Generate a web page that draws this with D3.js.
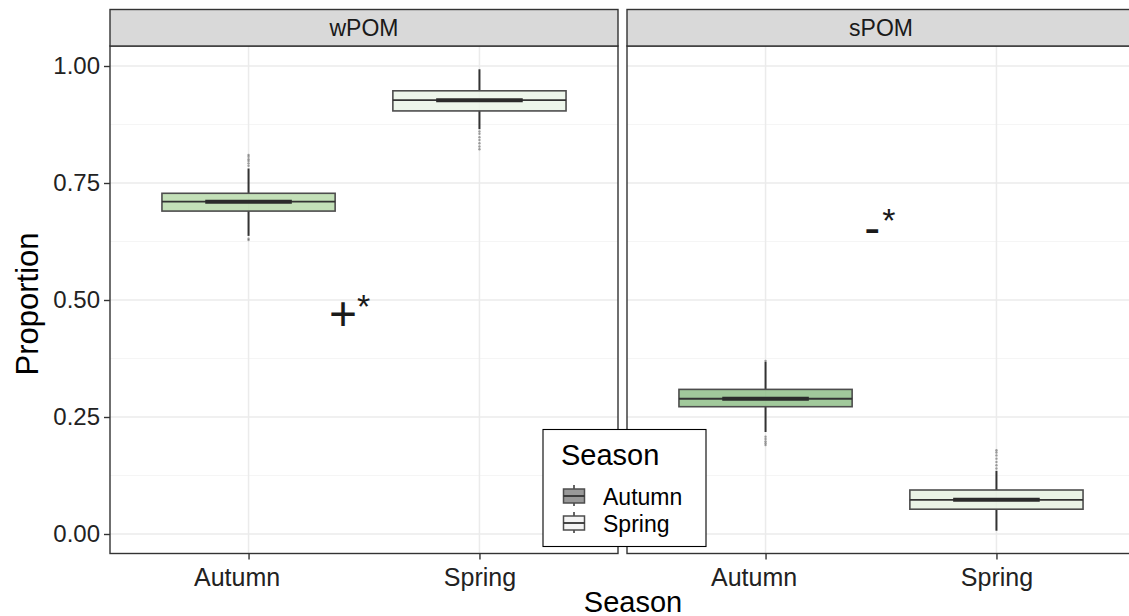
<!DOCTYPE html>
<html><head><meta charset="utf-8">
<script src="https://cdn.jsdelivr.net/npm/d3@7"></script>
<style>body{margin:0;background:#fff} text{font-family:"Liberation Sans",Arial,Helvetica,sans-serif}</style>
</head><body><svg id="c" width="1129" height="616"></svg>
<script>
// ---------- data ----------
const facets = ["wPOM", "sPOM"];
const seasons = ["Autumn", "Spring"];
const yTicks = [0, 0.25, 0.5, 0.75, 1.0];
const yTickLabels = ["0.00", "0.25", "0.50", "0.75", "1.00"];
const yMinor = [0.125, 0.375, 0.625, 0.875];
// [lower whisker, Q1, median, Q3, upper whisker]
const wPOM_Autumn = [0.637, 0.690, 0.710, 0.728, 0.781];
const wPOM_Spring = [0.865, 0.904, 0.927, 0.947, 0.993];
const sPOM_Autumn = [0.218, 0.272, 0.289, 0.309, 0.368];
const sPOM_Spring = [0.007, 0.053, 0.073, 0.094, 0.135];
const wPOM_Autumn_out = [0.628, 0.631, 0.787, 0.792, 0.797, 0.801, 0.806, 0.810];
const wPOM_Spring_out = [0.822, 0.828, 0.835, 0.842, 0.848, 0.855, 0.860];
const sPOM_Autumn_out = [0.190, 0.194, 0.198, 0.203, 0.208, 0.370];
const sPOM_Spring_out = [0.140, 0.147, 0.154, 0.161, 0.168, 0.174, 0.179];
const boxFills = { wPOM_Autumn: "#b9dbab", wPOM_Spring: "#eaf4e7", sPOM_Autumn: "#91c089", sPOM_Spring: "#e6f1e2" };
const legendFills = ["#999999", "#f4f4f4"];
// annotations: facet, x (category units), y (proportion), main symbol, superscript
const annotFacet = ["wPOM", "sPOM"];
const annotX = [1.348, 1.428];
const annotY = [0.435, 0.620];
const annotMain = ["+", "-"];
const annotSup = ["*", "*"];

// ---------- layout ----------
const W = 1129, H = 616;
const panelTop = 46, panelBottom = 553.5, panelW = 508;
const panelLefts = [110, 627];
const stripTop = 9.5;
const svg = d3.select("#c");

const y = d3.scaleLinear().domain([0, 1]).range([534, 66]);

const stats = { wPOM_Autumn, wPOM_Spring, sPOM_Autumn, sPOM_Spring };
const outs = { wPOM_Autumn: wPOM_Autumn_out, wPOM_Spring: wPOM_Spring_out, sPOM_Autumn: sPOM_Autumn_out, sPOM_Spring: sPOM_Spring_out };

facets.forEach((f, fi) => {
  const L = panelLefts[fi];
  const x = d3.scaleLinear().domain([0.4, 2.6]).range([L, L + panelW]);
  const step = x(2) - x(1);
  const g = svg.append("g");
  g.append("rect").attr("x", L).attr("y", panelTop).attr("width", panelW).attr("height", panelBottom - panelTop).attr("fill", "#fff");
  g.selectAll(".mn").data(yMinor).enter().append("line")
    .attr("x1", L).attr("x2", L + panelW).attr("y1", d => y(d)).attr("y2", d => y(d))
    .attr("stroke", "#f2f2f2").attr("stroke-width", 0.8);
  g.selectAll(".mj").data(yTicks).enter().append("line")
    .attr("x1", L).attr("x2", L + panelW).attr("y1", d => y(d)).attr("y2", d => y(d))
    .attr("stroke", "#ebebeb").attr("stroke-width", 1.5);
  g.selectAll(".mjx").data([1, 2]).enter().append("line")
    .attr("x1", d => x(d)).attr("x2", d => x(d)).attr("y1", panelTop).attr("y2", panelBottom)
    .attr("stroke", "#ebebeb").attr("stroke-width", 1.5);

  seasons.forEach((s, si) => {
    const key = f + "_" + s;
    const st = stats[key];
    const cx = x(si + 1);
    const bw = 0.75 * step;
    g.append("line").attr("x1", cx).attr("x2", cx).attr("y1", y(st[3])).attr("y2", y(st[4]))
      .attr("stroke", "#333").attr("stroke-width", 2);
    g.append("line").attr("x1", cx).attr("x2", cx).attr("y1", y(st[1])).attr("y2", y(st[0]))
      .attr("stroke", "#333").attr("stroke-width", 2);
    g.selectAll(".o" + key).data(outs[key]).enter().append("circle")
      .attr("cx", cx).attr("cy", d => y(d)).attr("r", 1.2)
      .attr("fill", "#555").attr("fill-opacity", 0.55);
    g.append("rect").attr("x", cx - bw / 2).attr("y", y(st[3])).attr("width", bw).attr("height", y(st[1]) - y(st[3]))
      .attr("fill", boxFills[key]).attr("fill-opacity", 0.85)
      .attr("stroke", "#4d4d4d").attr("stroke-width", 1.6);
    g.append("line").attr("x1", cx - bw / 2).attr("x2", cx + bw / 2).attr("y1", y(st[2])).attr("y2", y(st[2]))
      .attr("stroke", "#333").attr("stroke-width", 1.8);
    g.append("line").attr("x1", cx - bw / 4).attr("x2", cx + bw / 4).attr("y1", y(st[2])).attr("y2", y(st[2]))
      .attr("stroke", "#2b2b2b").attr("stroke-width", 4);
  });

  annotFacet.forEach((af, ai) => {
    if (af !== f) return;
    const t = g.append("text").attr("x", x(annotX[ai])).attr("y", y(annotY[ai])).attr("fill", "#1a1a1a");
    t.append("tspan").attr("font-size", 48).text(annotMain[ai]);
    t.append("tspan").attr("font-size", 34).attr("dy", -12).attr("dx", ai === 0 ? 0 : 2).text(annotSup[ai]);
  });

  g.append("rect").attr("x", L).attr("y", panelTop).attr("width", panelW).attr("height", panelBottom - panelTop)
    .attr("fill", "none").attr("stroke", "#333").attr("stroke-width", 1.4);
  g.append("rect").attr("x", L).attr("y", stripTop).attr("width", panelW).attr("height", panelTop - stripTop)
    .attr("fill", "#d9d9d9").attr("stroke", "#333").attr("stroke-width", 1.4);
  g.append("text").attr("x", L + panelW / 2).attr("y", 36).attr("text-anchor", "middle")
    .attr("font-size", 23).attr("fill", "#1a1a1a").text(f);

  const xa = g.append("g").attr("transform", `translate(0,${panelBottom})`)
    .call(d3.axisBottom(x).tickValues([1, 2]).tickFormat(d => seasons[d - 1]).tickSize(6).tickPadding(4));
  xa.select(".domain").remove();
  xa.selectAll(".tick line").attr("stroke", "#333").attr("stroke-width", 1.4);
  xa.selectAll(".tick text").attr("font-size", 25).attr("fill", "#222").attr("dy", "0.88em")
    .attr("dx", d => d === 1 ? -12 : 0)
    .attr("font-family", "Liberation Sans, Arial, sans-serif");
});

const ya = svg.append("g").attr("transform", `translate(${panelLefts[0]},0)`)
  .call(d3.axisLeft(y).tickValues(yTicks).tickFormat((d, i) => yTickLabels[i]).tickSize(6).tickPadding(4));
ya.select(".domain").remove();
ya.selectAll(".tick line").attr("stroke", "#333").attr("stroke-width", 1.4);
ya.selectAll(".tick text").attr("font-size", 24).attr("fill", "#222")
  .attr("font-family", "Liberation Sans, Arial, sans-serif");

svg.append("text").attr("transform", "translate(38,304) rotate(-90)").attr("text-anchor", "middle")
  .attr("font-size", 31).attr("fill", "#000").text("Proportion");
svg.append("text").attr("x", 633).attr("y", 611.5).attr("text-anchor", "middle")
  .attr("font-size", 29).attr("fill", "#000").text("Season");

const lg = svg.append("g");
lg.append("rect").attr("x", 543).attr("y", 429.5).attr("width", 163).attr("height", 117)
  .attr("fill", "#fff").attr("stroke", "#000").attr("stroke-width", 1.1);
lg.append("text").attr("x", 561).attr("y", 465).attr("font-size", 29).attr("fill", "#000").text("Season");
const keyY = [496, 523];
seasons.forEach((s, i) => {
  const cy = keyY[i];
  lg.append("line").attr("x1", 574).attr("x2", 574).attr("y1", cy - 11).attr("y2", cy + 10)
    .attr("stroke", "#333").attr("stroke-width", 1.5);
  lg.append("rect").attr("x", 563.5).attr("y", cy - 7).attr("width", 21).attr("height", 14)
    .attr("fill", legendFills[i]).attr("stroke", "#4d4d4d").attr("stroke-width", 1.5);
  lg.append("line").attr("x1", 563.5).attr("x2", 584.5).attr("y1", cy).attr("y2", cy)
    .attr("stroke", "#333").attr("stroke-width", 1.8);
  lg.append("text").attr("x", 603).attr("y", cy + 8.5).attr("font-size", 23).attr("fill", "#000").text(s);
});
</script></body></html>
